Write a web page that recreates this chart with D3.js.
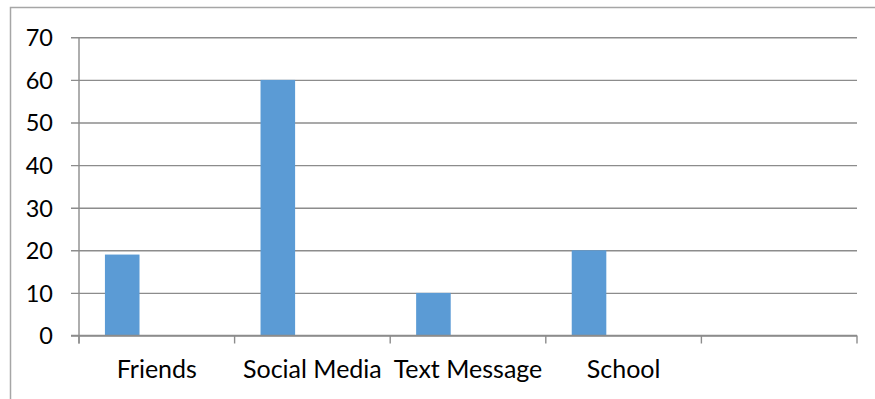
<!DOCTYPE html>
<html>
<head>
<meta charset="utf-8">
<script src="https://cdn.jsdelivr.net/npm/d3@7"></script>
<style>
  html, body { margin: 0; padding: 0; background: #fff; }
  svg { display: block; }
  text { font-family: Lato, "Open Sans", sans-serif; fill: #000; }
</style>
</head>
<body>
<svg id="chart" width="875" height="399"></svg>
<script>
// Categories along the x axis (the last slot carries no label)
const categories = ["Friends", "Social Media", "Text Message", "School", ""];
// Series slots in each category; only the first one has values
const seriesKeys = ["Series 1", "Series 2", "Series 3"];
const series1Values = [19, 60, 10, 20, null];
const yTicks = [0, 10, 20, 30, 40, 50, 60, 70];

const svg = d3.select("#chart");
const W = 875, H = 399;

// Outer chart frame
svg.append("rect")
  .attr("x", 10.5).attr("y", 7.5)
  .attr("width", W + 20).attr("height", H + 20)
  .attr("fill", "#fff")
  .attr("stroke", "#a6a6a6").attr("stroke-width", 1.5);

const plot = { left: 79, right: 857, top: 37.3, bottom: 335.5 };

const x = d3.scaleBand()
  .domain(d3.range(categories.length))
  .range([plot.left, plot.right])
  .paddingInner(0).paddingOuter(0);

const xs = d3.scaleBand()
  .domain(seriesKeys)
  .range([0, x.bandwidth()])
  .paddingInner(0).paddingOuter(0.75);

const y = d3.scaleLinear().domain([0, 70]).range([plot.bottom, plot.top]);

// Horizontal gridlines with short ticks to the left of the axis
const yAxis = d3.axisLeft(y)
  .tickValues(yTicks)
  .tickSize(-(plot.right - plot.left))
  .tickSizeOuter(0)
  .tickPadding(26)
  .tickFormat(d3.format("d"));

const gy = svg.append("g")
  .attr("transform", `translate(${plot.left},0)`)
  .call(yAxis);
gy.select(".domain").remove();
gy.selectAll(".tick line")
  .attr("x1", -8)
  .attr("stroke", "#8c8c8c").attr("stroke-width", 1.4);
gy.selectAll(".tick text")
  .attr("font-size", 23.5)
  .attr("dy", "0.36em");

// Vertical axis line
svg.append("line")
  .attr("x1", plot.left).attr("x2", plot.left)
  .attr("y1", plot.top).attr("y2", plot.bottom + 8)
  .attr("stroke", "#8c8c8c").attr("stroke-width", 1.4);

// Bars
svg.append("g").selectAll("rect")
  .data(series1Values.map((v, i) => ({ i, v })).filter(d => d.v != null))
  .join("rect")
  .attr("x", d => x(d.i) + xs("Series 1"))
  .attr("y", d => y(d.v))
  .attr("width", xs.bandwidth())
  .attr("height", d => y(0) - y(d.v))
  .attr("fill", "#5b9bd5");

// Category axis with boundary ticks between slots
const gx = svg.append("g").attr("transform", `translate(0,${plot.bottom})`);
gx.append("line")
  .attr("x1", plot.left - 8).attr("x2", plot.right)
  .attr("stroke", "#8c8c8c").attr("stroke-width", 1.4);
const boundaries = d3.range(categories.length + 1).map(i =>
  i < categories.length ? x(i) : x(categories.length - 1) + x.bandwidth());
gx.selectAll("line.bt")
  .data(boundaries)
  .join("line").attr("class", "bt")
  .attr("x1", d => d).attr("x2", d => d)
  .attr("y1", 0).attr("y2", 8)
  .attr("stroke", "#8c8c8c").attr("stroke-width", 1.4);
gx.selectAll("text")
  .data(categories)
  .join("text")
  .attr("x", (d, i) => x(i) + x.bandwidth() / 2)
  .attr("y", 42.5)
  .attr("text-anchor", "middle")
  .attr("font-size", 25)
  .text(d => d);
</script>
</body>
</html>
